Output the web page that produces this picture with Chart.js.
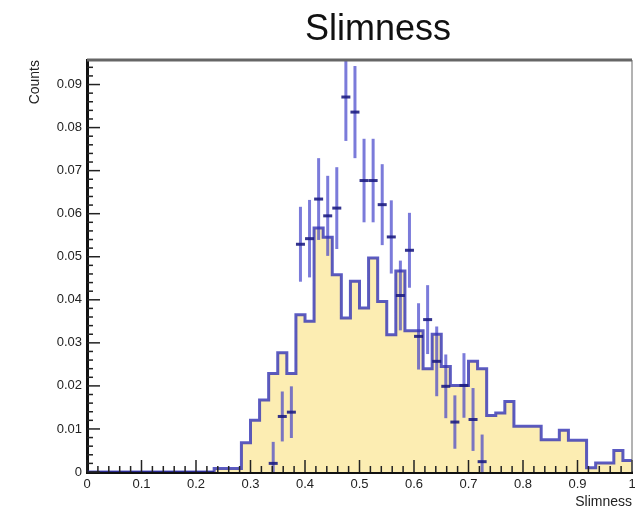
<!DOCTYPE html>
<html>
<head>
<meta charset="utf-8">
<script src="https://cdn.jsdelivr.net/npm/chart.js@4.4.1/dist/chart.umd.min.js"></script>
<style>
  html, body { margin: 0; padding: 0; background: #fff; }
  #wrap { width: 635px; height: 515px; }
</style>
</head>
<body>
<div id="wrap"><canvas id="chart" width="635" height="515"></canvas></div>
<script>
// histogram: 60 bins on [0, 1]
const nBins = 60;
const xMin = 0;
const xMax = 1;

// filled (reference) histogram, one value per bin
const mcCounts = [
  0, 0, 0, 0, 0, 0, 0, 0, 0, 0,
  0, 0, 0, 0, 0.0008, 0.0008, 0.0008, 0.0068, 0.0120, 0.0167,
  0.0229, 0.0277, 0.0229, 0.0365, 0.0350, 0.0567, 0.0545, 0.0458, 0.0358, 0.0443,
  0.0381, 0.0497, 0.0396, 0.0319, 0.0467, 0.0328, 0.0328, 0.0240, 0.0320, 0.0245,
  0.0201, 0.0201, 0.0257, 0.0240, 0.0131, 0.0137, 0.0164, 0.0106, 0.0106, 0.0106,
  0.0075, 0.0075, 0.0097, 0.0074, 0.0074, 0.0010, 0.0021, 0.0021, 0.0050, 0.0027
];

// data points (null = empty bin) and their errors
const dataCounts = [
  null, null, null, null, null, null, null, null, null, null,
  null, null, null, null, null, null, null, null, null, null,
  0.0020, 0.0129, 0.0139, 0.0529, 0.0542, 0.0634, 0.0595, 0.0613, 0.0871, 0.0836,
  0.0677, 0.0677, 0.0621, 0.0546, 0.0410, 0.0515, 0.0315, 0.0354, 0.0257, 0.0199,
  0.0116, 0.0201, 0.0122, 0.0024, null, null, null, null, null, null,
  null, null, null, null, null, null, null, null, null, null
];
const dataErrors = [
  0, 0, 0, 0, 0, 0, 0, 0, 0, 0,
  0, 0, 0, 0, 0, 0, 0, 0, 0, 0,
  0.0050, 0.0058, 0.0060, 0.0087, 0.0090, 0.0095, 0.0093, 0.0095, 0.0102, 0.0107,
  0.0097, 0.0097, 0.0094, 0.0085, 0.0081, 0.0087, 0.0077, 0.0080, 0.0081, 0.0074,
  0.0062, 0.0075, 0.0073, 0.0063, 0, 0, 0, 0, 0, 0,
  0, 0, 0, 0, 0, 0, 0, 0, 0, 0
];

const xTicks = [0, 0.1, 0.2, 0.3, 0.4, 0.5, 0.6, 0.7, 0.8, 0.9, 1];
const yTicks = [0, 0.01, 0.02, 0.03, 0.04, 0.05, 0.06, 0.07, 0.08, 0.09];
const yMax = 0.0957;

const binWidth = (xMax - xMin) / nBins;
const binLow = i => xMin + i * binWidth;
const binCenter = i => xMin + (i + 0.5) * binWidth;

// step outline: one point at each bin's low edge, plus the closing edge
const histPoints = mcCounts.map((v, i) => ({ x: binLow(i), y: v }));
histPoints.push({ x: xMax, y: mcCounts[nBins - 1] });

const dataPoints = [];
dataCounts.forEach((v, i) => {
  if (v !== null) dataPoints.push({ x: binCenter(i), y: v });
});

const fontFamily = "'Liberation Sans', Arial, sans-serif";
Chart.defaults.font.family = fontFamily;

const errorBars = {
  id: 'errorBars',
  beforeDatasetDraw(chart, args) {
    if (args.index !== 1) return;
    const { ctx, chartArea, scales } = chart;
    ctx.save();
    ctx.beginPath();
    ctx.rect(chartArea.left, chartArea.top, chartArea.width, chartArea.height);
    ctx.clip();
    ctx.strokeStyle = 'rgba(60,60,200,0.68)';
    ctx.lineWidth = 3;
    dataCounts.forEach((v, i) => {
      if (v === null) return;
      const cx = scales.x.getPixelForValue(binCenter(i));
      ctx.beginPath();
      ctx.moveTo(cx, scales.y.getPixelForValue(Math.max(0, v - dataErrors[i])));
      ctx.lineTo(cx, scales.y.getPixelForValue(v + dataErrors[i]));
      ctx.stroke();
    });
    ctx.restore();
  }
};

// ROOT style frame: inward ticks, top and right border, title
const frame = {
  id: 'frame',
  afterDraw(chart) {
    const { ctx, chartArea: a, scales } = chart;
    ctx.save();
    ctx.strokeStyle = '#222';
    ctx.lineWidth = 1.5;
    for (let k = 0; k <= 50; k++) {
      const v = xMin + k * 0.02;
      const px = scales.x.getPixelForValue(v);
      const len = k % 5 === 0 ? 12 : 6;
      ctx.beginPath();
      ctx.moveTo(px, a.bottom);
      ctx.lineTo(px, a.bottom - len);
      ctx.stroke();
    }
    for (let k = 0; k * 0.002 <= yMax; k++) {
      const py = scales.y.getPixelForValue(k * 0.002);
      const len = k % 5 === 0 ? 13 : 6;
      ctx.beginPath();
      ctx.moveTo(a.left, py);
      ctx.lineTo(a.left + len, py);
      ctx.stroke();
    }
    ctx.strokeStyle = '#666';
    ctx.lineWidth = 3;
    ctx.beginPath();
    ctx.moveTo(a.left, a.top);
    ctx.lineTo(a.right, a.top);
    ctx.stroke();
    ctx.lineWidth = 1;
    ctx.beginPath();
    ctx.moveTo(a.right, a.top);
    ctx.lineTo(a.right, a.bottom);
    ctx.stroke();

    ctx.fillStyle = '#111';
    ctx.font = '36px ' + fontFamily;
    ctx.textAlign = 'center';
    ctx.textBaseline = 'alphabetic';
    ctx.fillText('Slimness', 378, 40);
    ctx.restore();
  }
};

const tickFont = { size: 13 };

new Chart(document.getElementById('chart'), {
  type: 'line',
  data: {
    datasets: [
      {
        type: 'scatter',
        label: 'Data',
        data: dataPoints,
        showLine: false,
        pointStyle: 'line',
        pointRadius: 4.5,
        borderWidth: 3,
        borderColor: 'rgba(30,30,130,0.9)',
        backgroundColor: 'rgba(30,30,130,0.9)',
        order: 1
      },
      {
        label: 'Slimness',
        data: histPoints,
        stepped: true,
        fill: 'origin',
        backgroundColor: 'rgb(252,237,178)',
        borderColor: 'rgba(50,50,180,0.8)',
        borderWidth: 3,
        pointRadius: 0,
        order: 2
      }
    ]
  },
  options: {
    responsive: false,
    animation: false,
    layout: { autoPadding: false, padding: { top: 60, right: 3, left: 0, bottom: 0 } },
    plugins: {
      legend: { display: false },
      tooltip: { enabled: false },
      title: { display: false }
    },
    scales: {
      x: {
        type: 'linear',
        min: xMin,
        max: xMax,
        grid: { display: false, drawTicks: false },
        border: { display: true, color: '#111', width: 3 },
        afterBuildTicks: s => { s.ticks = xTicks.map(v => ({ value: v })); },
        afterFit: s => { s.height = 43; s.paddingLeft = 0; s.paddingRight = 0; },
        ticks: {
          font: tickFont,
          color: '#222',
          padding: 5,
          maxRotation: 0,
          autoSkip: false,
          callback: v => String(Math.round(v * 10) / 10)
        },
        title: {
          display: true,
          text: 'Slimness',
          align: 'end',
          color: '#222',
          font: { size: 14 },
          padding: { top: 0, bottom: 4 }
        }
      },
      y: {
        type: 'linear',
        min: 0,
        max: yMax,
        grid: { display: false, drawTicks: false },
        border: { display: true, color: '#111', width: 3 },
        afterBuildTicks: s => { s.ticks = yTicks.map(v => ({ value: v })); },
        afterFit: s => { s.width = 87; s.paddingTop = 0; s.paddingBottom = 0; },
        ticks: {
          font: tickFont,
          color: '#222',
          padding: 5,
          autoSkip: false,
          callback: v => String(Math.round(v * 100) / 100)
        },
        title: {
          display: true,
          text: 'Counts',
          align: 'end',
          color: '#222',
          font: { size: 14 },
          padding: { top: 27, bottom: 0 }
        }
      }
    }
  },
  plugins: [errorBars, frame]
});
</script>
</body>
</html>
